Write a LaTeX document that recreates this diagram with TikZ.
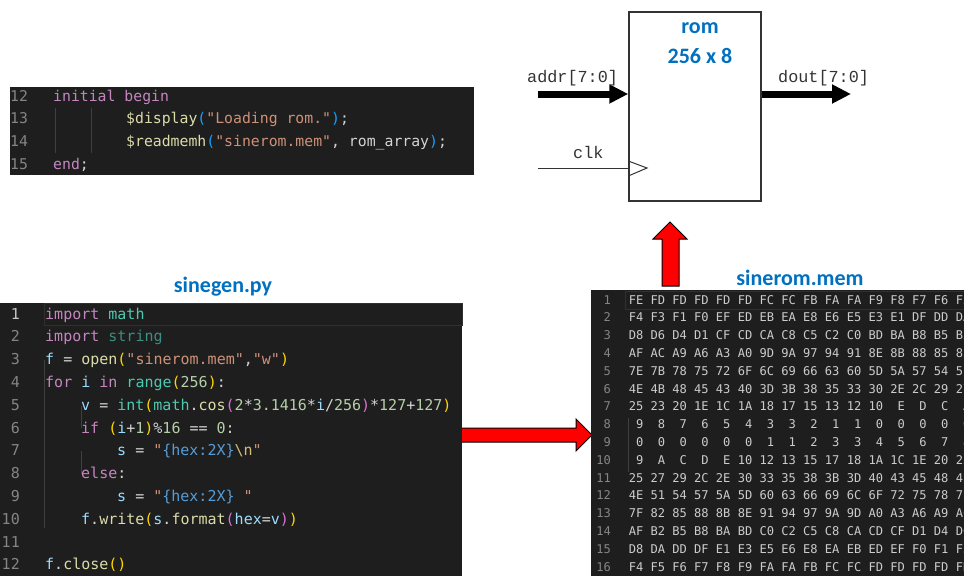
\documentclass[tikz,border=0pt]{standalone}
\usepackage{fontspec}
\setmainfont{Carlito}
\setmonofont{DejaVu Sans Mono}
\newfontfamily\courfont{Liberation Mono}
\usetikzlibrary{arrows.meta}
\definecolor{panel}{HTML}{1E1E1E}
\definecolor{deftxt}{HTML}{D4D4D4}
\definecolor{lncol}{HTML}{858585}
\definecolor{lncur}{HTML}{C6C6C6}
\definecolor{kwc}{HTML}{C586C0}
\definecolor{fnc}{HTML}{DCDCAA}
\definecolor{varc}{HTML}{9CDCFE}
\definecolor{tyc}{HTML}{4EC9B0}
\definecolor{tydim}{HTML}{3B8F80}
\definecolor{numc}{HTML}{B5CEA8}
\definecolor{strc}{HTML}{CE9178}
\definecolor{fmtc}{HTML}{569CD6}
\definecolor{escc}{HTML}{D7BA7D}
\definecolor{bry}{HTML}{FFD700}
\definecolor{brp}{HTML}{DA70D6}
\definecolor{brb}{HTML}{179FFF}
\definecolor{guide}{HTML}{404040}
\definecolor{curline}{HTML}{303030}
\definecolor{memtxt}{HTML}{CCCCCC}
\definecolor{titleblue}{HTML}{0070C0}
\definecolor{boxline}{HTML}{333333}
\newcommand\ccK[1]{\textcolor{kwc}{#1}}
\newcommand\ccF[1]{\textcolor{fnc}{#1}}
\newcommand\ccV[1]{\textcolor{varc}{#1}}
\newcommand\ccT[1]{\textcolor{tyc}{#1}}
\newcommand\ccD[1]{\textcolor{tydim}{#1}}
\newcommand\ccN[1]{\textcolor{numc}{#1}}
\newcommand\ccS[1]{\textcolor{strc}{#1}}
\newcommand\ccB[1]{\textcolor{fmtc}{#1}}
\newcommand\ccE[1]{\textcolor{escc}{#1}}
\newcommand\ccY[1]{\textcolor{bry}{#1}}
\newcommand\ccP[1]{\textcolor{brp}{#1}}
\newcommand\ccC[1]{\textcolor{brb}{#1}}
\begin{document}
\begin{tikzpicture}[x=1pt,y=-1pt,
  pycode/.style={anchor=base west, inner sep=0pt, text=deftxt, font=\ttfamily\fontsize{15}{18}\selectfont},
  pynum/.style={anchor=base east, inner sep=0pt, text=lncol, font=\ttfamily\fontsize{15}{18}\selectfont},
  vcode/.style={anchor=base west, inner sep=0pt, text=deftxt, font=\ttfamily\fontsize{14.8}{18}\selectfont},
  vnum/.style={anchor=base west, inner sep=0pt, text=lncol, font=\ttfamily\fontsize{14.8}{18}\selectfont},
  hexv/.style={anchor=base east, inner sep=0pt, text=memtxt, font=\ttfamily\fontsize{12.07}{14}\selectfont},
  memnum/.style={anchor=base east, inner sep=0pt, text=lncol, font=\ttfamily\fontsize{12.07}{14}\selectfont},
  title/.style={anchor=base, inner sep=0pt, text=titleblue, font=\bfseries\fontsize{22}{26}\selectfont},
  sig/.style={anchor=base west, inner sep=0pt, text=boxline, font=\courfont\fontsize{16.8}{20}\selectfont},
  bus/.style={line width=7pt, -{Triangle[length=19pt,width=18pt]}},
  redarrow/.style={fill=red, draw=black, line width=1pt, line join=miter},
  guideline/.style={draw=guide, line width=0.8pt}
]
\useasboundingbox (0,0) rectangle (964,576);
\fill[white] (0,0) rectangle (964,576);

% ---------- Verilog panel ----------
\fill[panel] (10,87) rectangle (474,175);
\draw[guideline] (55,108) -- (55,153);
\draw[guideline] (91,108) -- (91,153);
\node[vnum] (v12) at (10,101) {12};
\node[vnum] (v13) at (10,123.7) {13};
\node[vnum] (v14) at (10,146.4) {14};
\node[vnum] (v15) at (10,169.1) {15};
\node[vcode] (vl12) at (53,101) {\ccK{initial} \ccK{begin}};
\node[vcode] (vl13) at (126,123.7) {\ccF{\$display}\ccC{(}\ccS{"Loading rom."}\ccC{)};};
\node[vcode] (vl14) at (126,146.4) {\ccF{\$readmemh}\ccC{(}\ccS{"sinerom.mem"}, rom\_array\ccC{)};};
\node[vcode] (vl15) at (53,169.1) {\ccK{end};};

% ---------- ROM block ----------
\node[draw=boxline, line width=1.5pt, minimum width=132pt, minimum height=189pt, inner sep=0pt] (rom) at (695,106.5) {};
\node[title] (romt) at (700,33) {rom};
\node[title] (roms) at (700,63) {256 x 8};
\coordinate (addrS) at (538,94);
\coordinate (doutE) at (851,94);
\coordinate (clkS) at (538,168);
\draw[bus] (addrS) -- (addrS -| rom.west);
\draw[bus] (rom.east |- doutE) -- (doutE);
\draw[boxline, line width=1pt] (clkS) -- (clkS -| rom.west);
\draw[boxline, line width=1pt] (rom.west |- 0,161) -- (647,168) -- (rom.west |- 0,176);
\node[sig] (addrl) at (527,82) {addr[7:0]};
\node[sig] (doutl) at (778,82) {dout[7:0]};
\node[sig] (clkl) at (573,158) {clk};

% ---------- red arrows ----------
\draw[redarrow] (662,286) -- (662,239) -- (653,239) -- (670,222) -- (687,239) -- (679,239) -- (679,286) -- cycle;
\draw[redarrow] (461,428) -- (576,428) -- (576,419) -- (592,435) -- (576,451) -- (576,442) -- (461,442) -- cycle;

% ---------- titles ----------
\node[title] (pyt) at (223,292) {sinegen.py};
\node[title] (memt) at (800,285) {sinerom.mem};

% ---------- Python panel ----------
\fill[panel] (0,303) rectangle (462,576);
\draw[curline, line width=1pt] (44,303.5) rectangle (462,325);
\draw[guideline] (44.5,360) -- (44.5,528);
\draw[guideline] (81.5,406) -- (81.5,428);
\draw[guideline] (81.5,451) -- (81.5,474);
\foreach \n in {1,...,12} {
  \pgfmathsetmacro\yy{314+(\n-1)*22.8+5}
  \ifnum\n=1
    \node[pynum, text=lncur] (pn\n) at (20,\yy) {\n};
  \else
    \node[pynum] (pn\n) at (20,\yy) {\n};
  \fi
}
\node[pycode] (p1) at (45,319) {\ccK{import} \ccT{math}};
\node[pycode] (p2) at (45,341.8) {\ccK{import} \ccD{string}};
\node[pycode] (p3) at (45,364.6) {\ccV{f} = \ccF{open}\ccY{(}\ccS{"sinerom.mem"},\ccS{"w"}\ccY{)}};
\node[pycode] (p4) at (45,387.4) {\ccK{for} \ccV{i} \ccK{in} \ccT{range}\ccY{(}\ccN{256}\ccY{)}:};
\node[pycode] (p5) at (81,410.2) {\ccV{v} = \ccT{int}\ccY{(}\ccT{math}.\ccF{cos}\ccP{(}\ccN{2}*\ccN{3.1416}*\ccV{i}/\ccN{256}\ccP{)}*\ccN{127}+\ccN{127}\ccY{)}};
\node[pycode] (p6) at (81,433) {\ccK{if} \ccY{(}\ccV{i}+\ccN{1}\ccY{)}\%\ccN{16} == \ccN{0}:};
\node[pycode] (p7) at (117,455.8) {\ccV{s} = \ccS{"}\ccB{\{hex:2X\}}\ccE{\textbackslash n}\ccS{"}};
\node[pycode] (p8) at (81,478.6) {\ccK{else}:};
\node[pycode] (p9) at (117,501.4) {\ccV{s} = \ccS{"}\ccB{\{hex:2X\}}\ccS{~"}};
\node[pycode] (p10) at (81,524.2) {\ccV{f}.\ccF{write}\ccY{(}\ccV{s}.\ccF{format}\ccP{(}\ccV{hex}=\ccV{v}\ccP{)}\ccY{)}};
\node[pycode] (p12) at (45,569.8) {\ccV{f}.\ccF{close}\ccY{()}};

% ---------- mem panel ----------
\begin{scope}
\clip (0,0) rectangle (964,576);
\fill[panel] (591,290) rectangle (970,576);
\draw[curline, line width=1pt] (625,291) rectangle (970,309.5);
\draw[guideline] (628,418) -- (628,472);
\foreach \n in {1,...,16} {
  \pgfmathsetmacro\yy{300+(\n-1)*17.8+4}
  \node[memnum] (mn\n) at (611,\yy) {\n};
}
\foreach \row [count=\r] in {
 {FE,FD,FD,FD,FD,FD,FC,FC,FB,FA,FA,F9,F8,F7,F6,F5},
 {F4,F3,F1,F0,EF,ED,EB,EA,E8,E6,E5,E3,E1,DF,DD,DA},
 {D8,D6,D4,D1,CF,CD,CA,C8,C5,C2,C0,BD,BA,B8,B5,B2},
 {AF,AC,A9,A6,A3,A0,9D,9A,97,94,91,8E,8B,88,85,82},
 {7E,7B,78,75,72,6F,6C,69,66,63,60,5D,5A,57,54,51},
 {4E,4B,48,45,43,40,3D,3B,38,35,33,30,2E,2C,29,27},
 {25,23,20,1E,1C,1A,18,17,15,13,12,10,E,D,C,A},
 {9,8,7,6,5,4,3,3,2,1,1,0,0,0,0,0},
 {0,0,0,0,0,0,1,1,2,3,3,4,5,6,7,8},
 {9,A,C,D,E,10,12,13,15,17,18,1A,1C,1E,20,23},
 {25,27,29,2C,2E,30,33,35,38,3B,3D,40,43,45,48,4B},
 {4E,51,54,57,5A,5D,60,63,66,69,6C,6F,72,75,78,7B},
 {7F,82,85,88,8B,8E,91,94,97,9A,9D,A0,A3,A6,A9,AC},
 {AF,B2,B5,B8,BA,BD,C0,C2,C5,C8,CA,CD,CF,D1,D4,D6},
 {D8,DA,DD,DF,E1,E3,E5,E6,E8,EA,EB,ED,EF,F0,F1,F3},
 {F4,F5,F6,F7,F8,F9,FA,FA,FB,FC,FC,FD,FD,FD,FD,FD}} {
  \foreach \v [count=\c] in \row {
    \node[hexv] at ({643.5+(\c-1)*21.8},{300+(\r-1)*17.8+4}) {\v};
  }
}
\end{scope}
\end{tikzpicture}
\end{document}
